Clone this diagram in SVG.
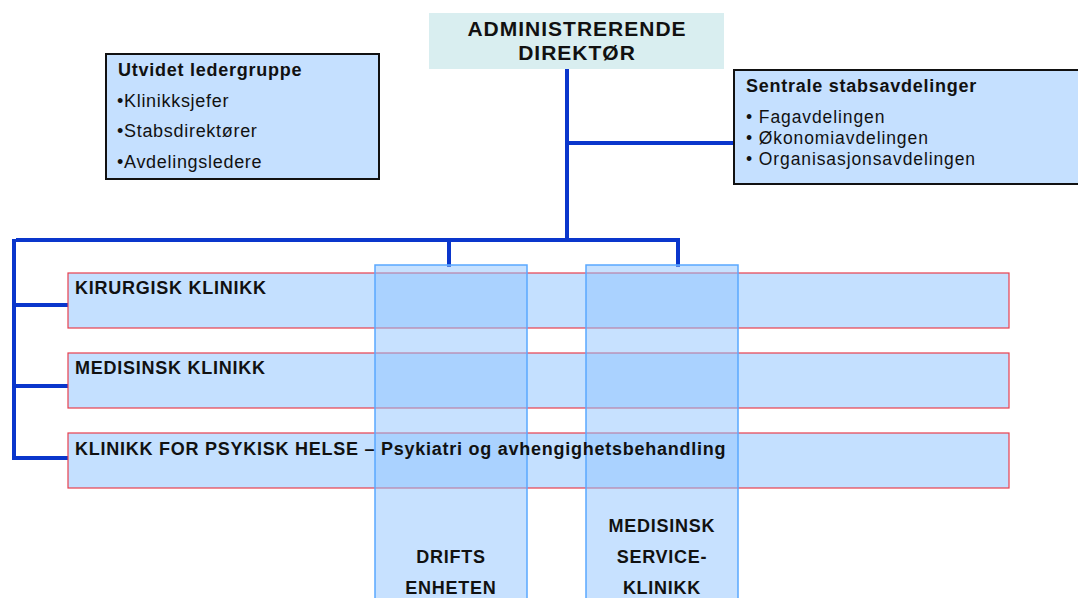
<svg xmlns="http://www.w3.org/2000/svg" width="1078" height="598" viewBox="0 0 1078 598">
<style>
text{font-family:"Liberation Sans",Arial,sans-serif;fill:#111;}
.b{font-weight:bold;font-size:18px;letter-spacing:0.75px;}
.r{font-size:18px;letter-spacing:0.7px;}
.r2{font-size:17.5px;letter-spacing:0.9px;}
.t{font-weight:bold;font-size:21px;letter-spacing:1px;text-anchor:middle;}
.c{font-weight:bold;font-size:18px;letter-spacing:0.75px;text-anchor:middle;}
.box{fill:#c5e0ff;stroke:#111;stroke-width:2;}
.band{fill:#c4e0ff;stroke:#e8404f;stroke-width:1.2;}
.col{fill:rgb(143,196,255);fill-opacity:0.5;stroke:#5aa8ff;stroke-width:1.5;}
.ln{stroke:#0a36cc;stroke-width:4;fill:none;}
</style>
<g id="connectors">
<line class="ln" x1="567" y1="69" x2="567" y2="242"/>
<line class="ln" x1="567" y1="143" x2="734" y2="143"/>
<line class="ln" x1="16" y1="240" x2="680" y2="240"/>
<line class="ln" x1="449" y1="240" x2="449" y2="267"/>
<line class="ln" x1="678" y1="240" x2="678" y2="267"/>
<line class="ln" x1="14" y1="239" x2="14" y2="460"/>
<line class="ln" x1="14" y1="305" x2="68" y2="305"/>
<line class="ln" x1="14" y1="386" x2="68" y2="386"/>
<line class="ln" x1="14" y1="458" x2="68" y2="458"/>
</g>
<g id="adm">
<rect x="429" y="13" width="295" height="56" fill="#d9eef0"/>
<text class="t" x="577" y="36">ADMINISTRERENDE</text>
<text class="t" x="577" y="60">DIREKTØR</text>
</g>
<g id="ledergruppe">
<rect class="box" x="106" y="54" width="273" height="125"/>
<text class="b" x="118" y="76">Utvidet ledergruppe</text>
<text class="r" x="117" y="107">•Klinikksjefer</text>
<text class="r" x="117" y="137">•Stabsdirektører</text>
<text class="r" x="117" y="168">•Avdelingsledere</text>
</g>
<g id="stab">
<rect class="box" x="734" y="70" width="350" height="114"/>
<text class="b" x="746" y="92">Sentrale stabsavdelinger</text>
<text class="r2" x="746" y="123">• Fagavdelingen</text>
<text class="r2" x="746" y="144">• Økonomiavdelingen</text>
<text class="r2" x="746" y="165">• Organisasjonsavdelingen</text>
</g>
<g id="kirurgisk">
<rect class="band" x="68" y="273" width="941" height="55"/>
</g>
<g id="medisinsk">
<rect class="band" x="68" y="353" width="941" height="55"/>
</g>
<g id="psykisk">
<rect class="band" x="68" y="433" width="941" height="55"/>
</g>
<g id="drift">
<rect class="col" x="375" y="265" width="152" height="340"/>
<text class="c" x="451" y="563">DRIFTS</text>
<text class="c" x="451" y="594">ENHETEN</text>
</g>
<g id="service">
<rect class="col" x="586" y="265" width="152" height="340"/>
<text class="c" x="662" y="532">MEDISINSK</text>
<text class="c" x="662" y="563">SERVICE-</text>
<text class="c" x="662" y="594">KLINIKK</text>
</g>
<g id="band-labels">
<text class="b" x="75" y="294">KIRURGISK KLINIKK</text>
<text class="b" x="75" y="374">MEDISINSK KLINIKK</text>
<text class="b" x="75" y="455">KLINIKK FOR PSYKISK HELSE – Psykiatri og avhengighetsbehandling</text>
</g>
</svg>
